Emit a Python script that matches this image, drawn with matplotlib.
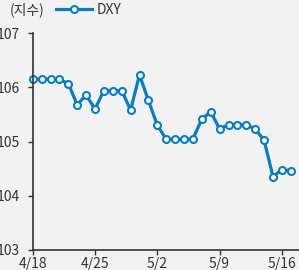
import matplotlib
matplotlib.use("Agg")
import matplotlib.pyplot as plt
import numpy as np
import pandas as pd

plt.rcParams['font.family'] = ['Noto Sans CJK KR', 'DejaVu Sans']

dates = pd.date_range("2024-04-18", "2024-05-17", freq="D")
dxy = [106.15, 106.15, 106.15, 106.15, 106.07, 105.68, 105.86, 105.60,
       105.94, 105.94, 105.94, 105.58, 106.23, 105.76, 105.30, 105.04,
       105.04, 105.04, 105.05, 105.41, 105.55, 105.23, 105.31, 105.31,
       105.31, 105.23, 105.02, 104.35, 104.48, 104.46]
tick_dates = ["2024-04-18", "2024-04-25", "2024-05-02", "2024-05-09", "2024-05-16"]
tick_labels = ["4/18", "4/25", "5/2", "5/9", "5/16"]
yticks = [103, 104, 105, 106, 107]

bg = "#f2f2f2"
blue = "#0a7cc2"
fs = 10

fig = plt.figure(figsize=(2.99, 2.70), dpi=100, facecolor=bg)
ax = fig.add_axes([32.7/299, 1-249.7/270, 1-32.7/299, (249.7-33.3)/270], facecolor=bg)

line, = ax.plot(dates, dxy, color=blue, lw=2.3, marker='o', ms=5.0,
                mfc='white', mec=blue, mew=1.5, label="DXY", clip_on=False)

x0 = pd.Timestamp("2024-04-18")
ax.set_xlim(x0, x0 + pd.Timedelta(days=29.92))
ax.set_ylim(103, 107)
ax.set_yticks(yticks)
ax.set_yticklabels([str(v) for v in yticks])
ax.set_xticks(pd.to_datetime(tick_dates))
ax.set_xticklabels(tick_labels)

for s in ["top", "right"]:
    ax.spines[s].set_visible(False)
for s in ["left", "bottom"]:
    ax.spines[s].set_color("#333333")
    ax.spines[s].set_linewidth(1.2)
ax.tick_params(axis='both', length=3.5, width=1.0, color="#333333",
               labelsize=fs, labelcolor="#333333")
ax.tick_params(axis='y', pad=6)
ax.tick_params(axis='x', pad=1.5)

fig.text(10/299, 1-10/270, "(지수)", fontsize=fs, color="#333333",
         ha='left', va='center')
ax.legend(handles=[line], loc='center left', bbox_to_anchor=(56/299, 1-10/270),
          bbox_transform=fig.transFigure, frameon=False, fontsize=fs,
          handlelength=2.6, handletextpad=0.3, borderaxespad=0, borderpad=0,
          labelcolor="#333333")

fig.savefig("out.png", dpi=100, facecolor=bg)
